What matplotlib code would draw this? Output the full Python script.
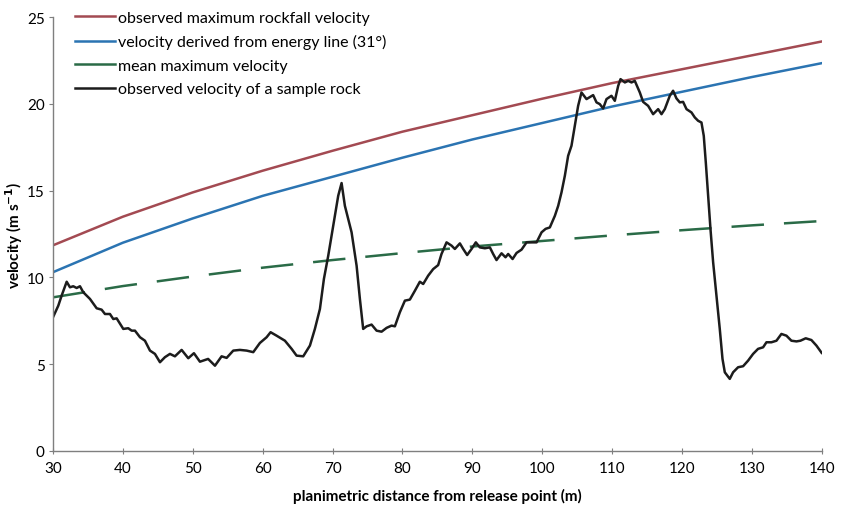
import matplotlib
matplotlib.use("Agg")
from matplotlib import pyplot as plt

plt.rcParams['font.family'] = ['Lato', 'DejaVu Sans']

# smooth reference curves, read every 10 m
dist = [30, 40, 50, 60, 70, 80, 90, 100, 110, 120, 130, 140]
v_obs_max = [11.85, 13.5, 14.9, 16.15, 17.3, 18.4, 19.35, 20.3, 21.2, 22.0, 22.8, 23.6]
v_energy = [10.3, 12.0, 13.4, 14.7, 15.8, 16.9, 17.95, 18.9, 19.85, 20.7, 21.55, 22.35]
v_mean_max = [8.85, 9.5, 10.05, 10.56, 11.0, 11.4, 11.78, 12.1, 12.42, 12.72, 13.0, 13.25]

# sample rock
rock_x = [30.0, 30.76, 31.24, 31.96, 32.43, 32.9, 33.39, 33.86, 34.34, 35.29, 36.25, 36.96,
          37.44, 38.15, 38.63, 39.11, 40.06, 40.77, 41.26, 41.73, 42.45, 43.16, 43.88, 44.59,
          45.31, 46.02, 46.74, 47.45, 48.41, 49.36, 50.17, 51.03, 52.2, 53.18, 54.13, 54.85,
          55.8, 56.75, 57.71, 58.66, 59.61, 60.57, 61.14, 62.0, 63.19, 64.15, 64.86, 65.81,
          66.77, 67.48, 68.2, 68.77, 69.39, 70.1, 70.82, 71.3, 71.77, 72.73, 73.45, 73.92,
          74.39, 74.88, 75.59, 76.31, 77.02, 77.74, 78.45, 78.93, 79.64, 80.36, 81.07, 81.79,
          82.5, 82.98, 83.69, 84.41, 85.12, 85.6, 86.32, 87.04, 87.51, 88.23, 88.7, 89.27,
          89.9, 90.51, 91.09, 91.8, 92.52, 92.99, 93.47, 94.19, 94.76, 95.14, 95.77, 96.34,
          97.05, 97.77, 98.48, 99.2, 99.92, 100.5, 101.1, 101.82, 102.3, 102.77, 103.25,
          103.72, 104.2, 104.68, 105.15, 105.63, 106.35, 107.3, 107.78, 108.25, 108.73,
          109.21, 109.92, 110.4, 110.88, 111.22, 111.84, 112.31, 112.79, 113.26, 113.98,
          114.45, 115.17, 115.88, 116.6, 117.08, 117.55, 118.27, 118.74, 119.22, 119.7,
          120.17, 120.66, 121.37, 121.85, 122.32, 122.8, 123.13, 123.42, 123.75, 124.09,
          124.47, 124.95, 125.42, 125.81, 126.14, 126.85, 127.33, 128.04, 128.76, 129.47,
          130.19, 130.9, 131.62, 132.1, 132.81, 133.53, 134.24, 134.96, 135.67, 136.39,
          136.96, 137.72, 138.53, 139.25, 140.0]
rock_v = [7.7, 8.37, 8.95, 9.75, 9.43, 9.49, 9.39, 9.49, 9.14, 8.76, 8.22, 8.14,
          7.89, 7.89, 7.6, 7.64, 7.03, 7.07, 6.93, 6.93, 6.55, 6.35, 5.78, 5.59,
          5.11, 5.4, 5.59, 5.45, 5.82, 5.34, 5.63, 5.14, 5.3, 4.91, 5.45, 5.36,
          5.78, 5.82, 5.78, 5.69, 6.22, 6.55, 6.84, 6.64, 6.35, 5.88, 5.49, 5.45,
          6.07, 7.03, 8.18, 9.91, 11.25, 12.98, 14.71, 15.44, 14.13, 12.6, 10.67, 8.76,
          7.03, 7.18, 7.28, 6.93, 6.87, 7.09, 7.22, 7.18, 7.99, 8.66, 8.72, 9.23,
          9.75, 9.62, 10.1, 10.48, 10.71, 11.35, 12.02, 11.83, 11.64, 11.96, 11.64, 11.29,
          11.64, 12.02, 11.73, 11.68, 11.73, 11.35, 11.0, 11.39, 11.16, 11.35, 11.06, 11.41,
          11.6, 12.02, 12.02, 12.02, 12.6, 12.8, 12.88, 13.55, 14.13, 14.9, 15.86,
          17.01, 17.59, 18.74, 19.89, 20.66, 20.28, 20.51, 20.09, 19.99, 19.74,
          20.28, 20.47, 20.18, 21.04, 21.43, 21.24, 21.33, 21.24, 21.33, 20.66,
          20.12, 19.89, 19.41, 19.7, 19.41, 19.7, 20.47, 20.76, 20.32, 20.09,
          20.12, 19.7, 19.51, 19.22, 19.03, 18.93, 18.16, 16.63, 14.71, 12.79,
          10.87, 8.95, 7.03, 5.3, 4.53, 4.15, 4.53, 4.82, 4.88, 5.2,
          5.59, 5.88, 5.97, 6.26, 6.26, 6.35, 6.74, 6.64, 6.35, 6.31,
          6.35, 6.49, 6.39, 6.07, 5.65]

labels = ["observed maximum rockfall velocity",
          "velocity derived from energy line (31°)",
          "mean maximum velocity",
          "observed velocity of a sample rock"]

fig = plt.figure(figsize=(8.41, 5.06), dpi=100)
ax = fig.add_axes([0.063, 0.107, 0.914, 0.857])

lw = 1.8
ax.plot(dist, v_obs_max, color='#a34a52', lw=lw, label=labels[0])
ax.plot(dist, v_energy, color='#2b74b2', lw=lw, label=labels[1])
ax.plot(dist, v_mean_max, color='#2a6b47', lw=lw, dashes=(13, 8), label=labels[2])
ax.plot(rock_x, rock_v, color='#1c1c1c', lw=lw, label=labels[3])

ax.set_xlim(30, 140)
ax.set_ylim(0, 25)
ax.set_xticks(range(30, 141, 10))
ax.set_yticks(range(0, 26, 5))

for s in ['top', 'right']:
    ax.spines[s].set_visible(False)
for s in ['left', 'bottom']:
    ax.spines[s].set_color('#7f7f7f')
    ax.spines[s].set_linewidth(1.0)
ax.tick_params(axis='y', direction='out', length=3, color='#7f7f7f', labelsize=11, pad=3)
ax.tick_params(axis='x', direction='inout', length=5, color='#7f7f7f', labelsize=11, pad=5)

ax.set_xlabel("planimetric distance from release point (m)", fontsize=11,
              fontweight='bold', labelpad=9)
ax.set_ylabel("velocity (m s$^{\\mathbf{-1}}$)", fontsize=11, fontweight='bold')
ax.yaxis.set_label_coords(-0.037, 0.5)

leg = ax.legend(loc='upper left', bbox_to_anchor=(0.029, 1.015), frameon=False,
                fontsize=11.5, handlelength=2.5, handletextpad=0.2, labelspacing=0.58,
                borderaxespad=0, borderpad=0)
for h in leg.get_lines():
    h.set_linestyle('-')

fig.savefig("out.png", dpi=100)
